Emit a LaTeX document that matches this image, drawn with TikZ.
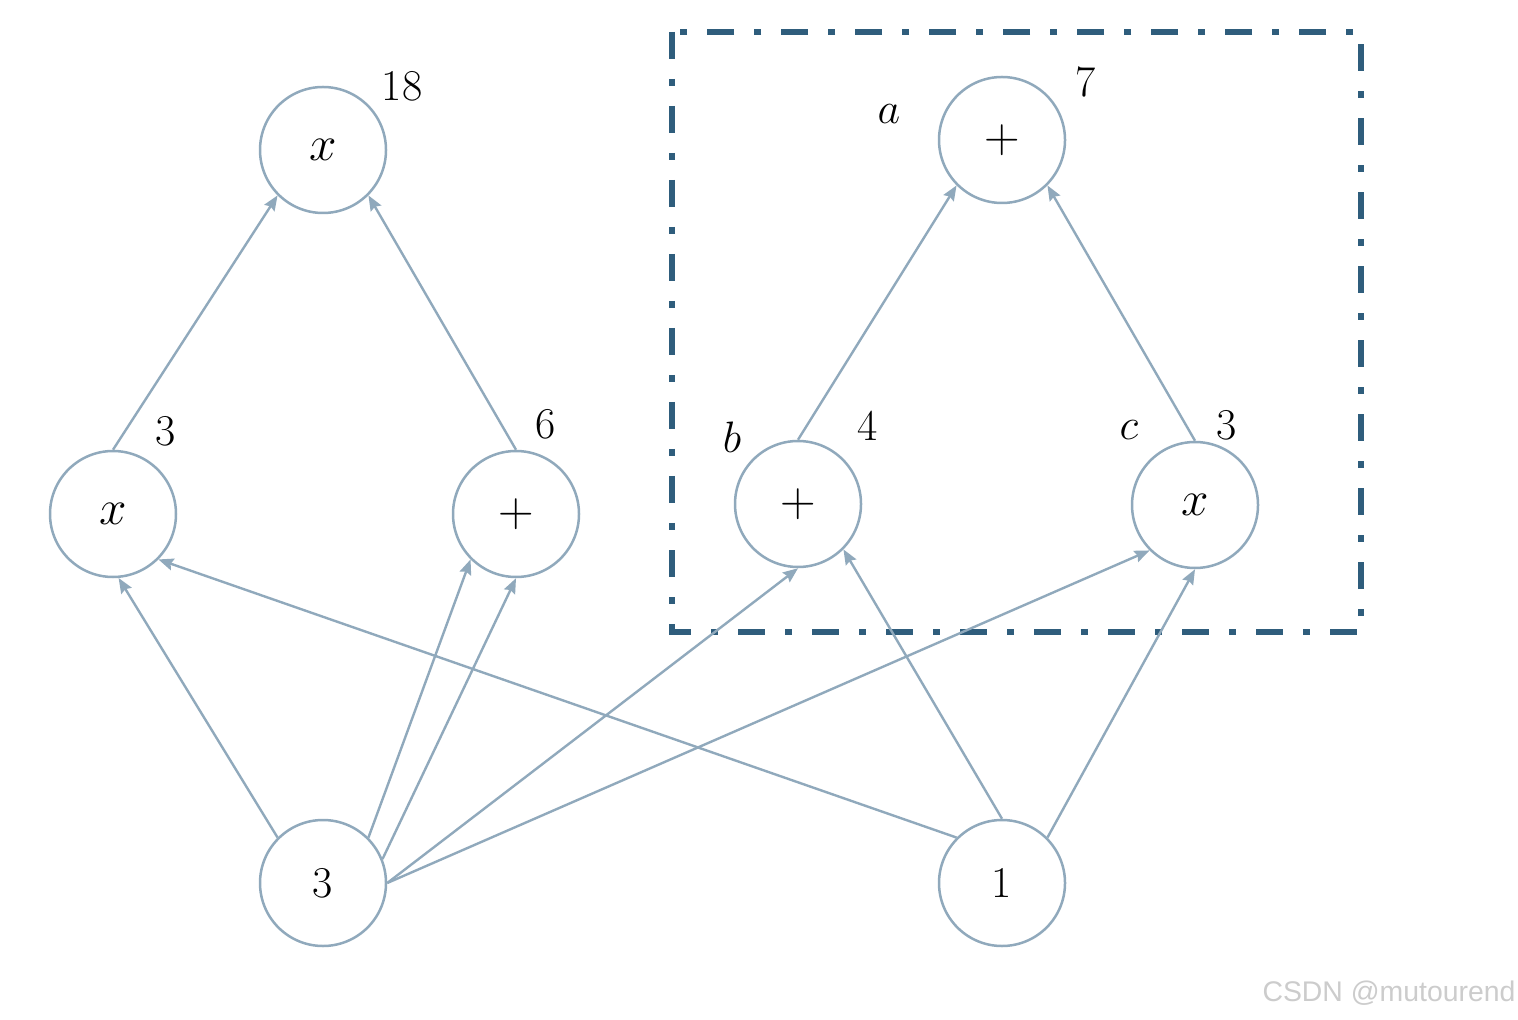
\documentclass[tikz,border=0pt]{standalone}
\usepackage{fix-cm}
\usepackage{fontspec}
\usepackage{graphicx}
\newfontfamily\wmfont{Liberation Sans}
\newcommand{\glyphbig}[1]{\scalebox{1.12}{#1}}
\usetikzlibrary{arrows.meta}
\definecolor{edgec}{HTML}{90A9BC}
\definecolor{boxc}{HTML}{2F5D7C}
\definecolor{wmc}{HTML}{CCCCCC}
\begin{document}
\begin{tikzpicture}[x=0.5pt,y=-0.5pt,
  opnode/.style={circle,draw=edgec,line width=1.25pt,minimum size=63pt,inner sep=0pt,
    font=\fontsize{22}{26}\selectfont},
  lbl/.style={inner sep=0pt,font=\fontsize{22}{26}\selectfont},
  conn/.style={draw=edgec,line width=1.2pt,-{Stealth[length=7.5pt,width=6pt,inset=1pt]},shorten >=0pt}
]
\useasboundingbox (0,0) rectangle (1518,1020);
\fill[white] (0,0) rectangle (1518,1020);

% dash-dot box
\coordinate (bx1) at (672,32);
\coordinate (bx2) at (1361,632);
\draw[boxc,line width=3pt,dash pattern=on 13.5pt off 10pt on 3.5pt off 10pt] (bx1) rectangle (bx2);

% nodes
\node[opnode] (top) at (323,150) {\glyphbig{$x$}};
\node[opnode] (lm)  at (113,514) {\glyphbig{$x$}};
\node[opnode] (lp)  at (516,514) {\glyphbig{$+$}};
\node[opnode] (th)  at (323,883) {3};
\node[opnode] (a)   at (1002,140) {\glyphbig{$+$}};
\node[opnode] (b)   at (798,504) {\glyphbig{$+$}};
\node[opnode] (c)   at (1195,505) {\glyphbig{$x$}};
\node[opnode] (one) at (1002,883) {1};

% labels
\node[lbl] (l18) at (402,86) {18};
\node[lbl] (l3a) at (166,431) {3};
\node[lbl] (l6)  at (546,424) {6};
\node[lbl] (la)  at (889,114) {$a$};
\node[lbl] (l7)  at (1086,82) {7};
\node[lbl] (lb)  at (732,437) {$b$};
\node[lbl] (l4)  at (868,426) {4};
\node[lbl] (lc)  at (1129,430) {$c$};
\node[lbl] (l3b) at (1227,425) {3};

% connectors
\draw[conn] (lm.north) -- (top.225);
\draw[conn] (lp.north) -- (top.-45);
\draw[conn] (b.north) -- (a.225);
\draw[conn] (c.north) -- (a.-45);

\draw[conn] (th.135) -- (lm.-85);
\draw[conn] (th.45) -- (lp.-135);
\draw[conn] (th.22) -- (lp.south);
\draw[conn] (th.east) -- (b.south);
\draw[conn] (th.east) -- (c.-135);

\draw[conn] (one.135) -- (lm.-45);
\draw[conn] (one.north) -- (b.-45);
\draw[conn] (one.45) -- (c.south);

% watermark
\node[inner sep=0pt,text=wmc,font=\fontsize{14.2}{16}\selectfont\wmfont] (wm) at (1389,993) {CSDN @mutourend};
\end{tikzpicture}
\end{document}
